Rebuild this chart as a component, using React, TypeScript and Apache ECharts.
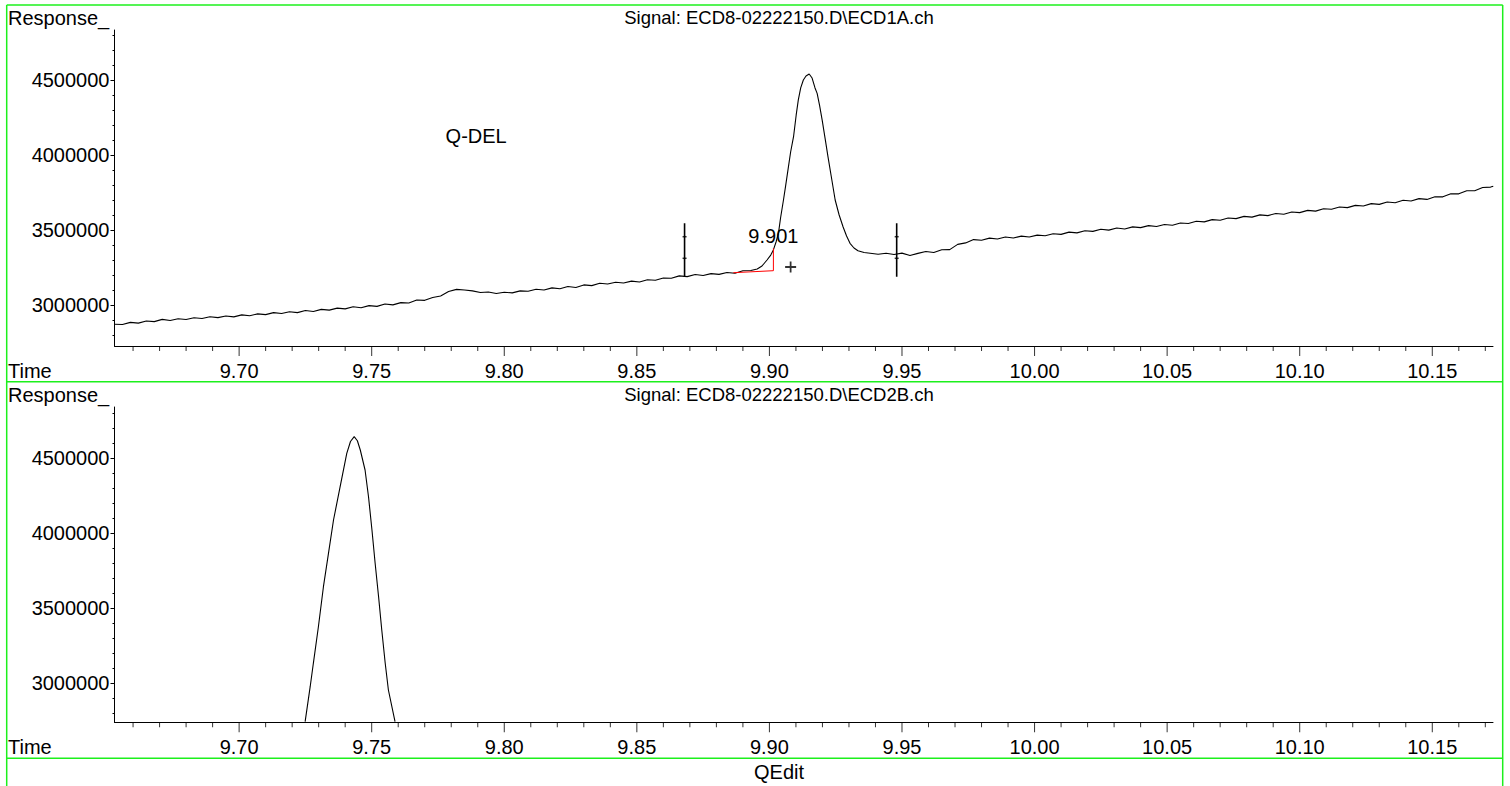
import React, { useEffect, useRef } from "react";
import * as echarts from "echarts";

const FONT = '"Liberation Sans", Arial, Helvetica, sans-serif';

// Axis ranges
const timeMin = 9.653;
const timeMax = 10.1729;
const topRespMin = 2726667;
const topRespMax = 4833333;
const botRespMin = 2738000;
const botRespMax = 4840000;

// Tick labels / positions
const timeMajorTicks = [9.7, 9.75, 9.8, 9.85, 9.9, 9.95, 10.0, 10.05, 10.1, 10.15];
const timeMinorTicks = [
  9.66, 9.67, 9.68, 9.69, 9.71, 9.72, 9.73, 9.74, 9.76, 9.77, 9.78, 9.79,
  9.81, 9.82, 9.83, 9.84, 9.86, 9.87, 9.88, 9.89, 9.91, 9.92, 9.93,
  9.94, 9.96, 9.97, 9.98, 9.99, 10.01, 10.02, 10.03, 10.04, 10.06,
  10.07, 10.08, 10.09, 10.11, 10.12, 10.13, 10.14, 10.16, 10.17,
];
const respMajorTicks = [3000000, 3500000, 4000000, 4500000];
const respMinorTicks = [
  2800000, 2900000, 3100000, 3200000, 3300000, 3400000, 3600000,
  3700000, 3800000, 3900000, 4100000, 4200000, 4300000, 4400000,
  4600000, 4700000, 4800000,
];

// Signal ECD1A
const ecd1aTime = [
  9.653, 9.656, 9.659, 9.662, 9.665, 9.668, 9.671, 9.674, 9.677, 9.68, 9.683, 9.686,
  9.689, 9.692, 9.695, 9.698, 9.701, 9.704, 9.707, 9.71, 9.713, 9.716, 9.719, 9.722,
  9.725, 9.728, 9.731, 9.734, 9.737, 9.74, 9.743, 9.746, 9.749, 9.752, 9.755, 9.758,
  9.761, 9.764, 9.767, 9.77, 9.773, 9.776, 9.779, 9.782, 9.785, 9.788, 9.791, 9.794,
  9.797, 9.8, 9.803, 9.806, 9.809, 9.812, 9.815, 9.818, 9.821, 9.824, 9.827, 9.83,
  9.833, 9.836, 9.839, 9.842, 9.845, 9.848, 9.851, 9.854, 9.857, 9.86, 9.863, 9.866,
  9.869, 9.872, 9.875, 9.878, 9.881, 9.884, 9.887, 9.89, 9.893,
  9.8954, 9.8972, 9.8991, 9.9005, 9.9015, 9.9025, 9.9034, 9.9042, 9.9053, 9.9061,
  9.9071, 9.908, 9.9091, 9.9101, 9.9109, 9.9118, 9.9128, 9.9138, 9.915,
  9.9161, 9.9172, 9.918, 9.9189, 9.9199, 9.921, 9.9221, 9.9233, 9.9248, 9.9263,
  9.9278, 9.9291, 9.9304, 9.9319, 9.9334, 9.9357, 9.938,
  9.941, 9.944, 9.947, 9.95, 9.953, 9.956, 9.959, 9.962, 9.965, 9.968, 9.971, 9.974,
  9.977, 9.98, 9.983, 9.986, 9.989, 9.992, 9.995, 9.998, 10.001, 10.004, 10.007,
  10.01, 10.013, 10.016, 10.019, 10.022, 10.025, 10.028, 10.031, 10.034, 10.037,
  10.04, 10.043, 10.046, 10.049, 10.052, 10.055, 10.058, 10.061, 10.064, 10.067,
  10.07, 10.073, 10.076, 10.079, 10.082, 10.085, 10.088, 10.091, 10.094, 10.097,
  10.1, 10.103, 10.106, 10.109, 10.112, 10.115, 10.118, 10.121, 10.124, 10.127,
  10.13, 10.133, 10.136, 10.139, 10.142, 10.145, 10.148, 10.151, 10.154, 10.157,
  10.16, 10.163, 10.166, 10.169, 10.172, 10.173,
];
const ecd1aResponse = [
  2872000, 2870000, 2884000, 2879000, 2893000, 2889000, 2904000, 2897000, 2908000,
  2903000, 2915000, 2910000, 2922000, 2916000, 2927000, 2921000, 2934000, 2928000,
  2941000, 2936000, 2949000, 2943000, 2955000, 2949000, 2963000, 2957000, 2971000,
  2966000, 2979000, 2974000, 2988000, 2982000, 2996000, 2991000, 3007000, 3001000,
  3016000, 3013000, 3033000, 3031000, 3050000, 3060000, 3090000, 3104000, 3100000,
  3094000, 3083000, 3087000, 3077000, 3085000, 3081000, 3094000, 3092000, 3105000,
  3100000, 3114000, 3108000, 3123000, 3117000, 3134000, 3129000, 3145000, 3140000,
  3152000, 3147000, 3159000, 3153000, 3168000, 3165000, 3180000, 3178000, 3194000,
  3189000, 3203000, 3197000, 3209000, 3204000, 3217000, 3212000, 3228000, 3230000,
  3240000, 3260000, 3300000, 3333000, 3367000, 3420000, 3478000, 3580000, 3700000,
  3793000, 3913000, 4020000, 4122000, 4267000, 4367000, 4447000, 4500000, 4527000,
  4540000,
  4513000, 4447000, 4411000, 4333000, 4233000, 4111000, 3987000, 3860000, 3700000,
  3600000, 3520000, 3460000, 3411000, 3380000, 3362000, 3350000, 3345000,
  3338000, 3345000, 3337000, 3346000, 3330000, 3344000, 3357000, 3350000, 3368000,
  3369000, 3404000, 3414000, 3436000, 3432000, 3446000, 3440000, 3453000, 3447000,
  3459000, 3453000, 3466000, 3462000, 3475000, 3471000, 3486000, 3481000, 3495000,
  3491000, 3505000, 3499000, 3513000, 3507000, 3521000, 3516000, 3529000, 3523000,
  3537000, 3532000, 3547000, 3543000, 3558000, 3554000, 3569000, 3565000, 3580000,
  3576000, 3591000, 3586000, 3601000, 3596000, 3610000, 3605000, 3620000, 3616000,
  3631000, 3626000, 3642000, 3638000, 3653000, 3649000, 3664000, 3660000, 3676000,
  3671000, 3687000, 3682000, 3698000, 3693000, 3709000, 3704000, 3721000, 3721000,
  3741000, 3741000, 3762000, 3762000, 3783000, 3786000, 3792000,
];

// Integration baseline (red) and peak markers
const baselineTime = [9.8864, 9.9015, 9.9015];
const baselineResponse = [3215333, 3228667, 3378000];
const markerTimes = [9.868, 9.948];
const markerLow = 3188667;
const markerHigh = 3544667;
const markerNubs = [3455333, 3311333];
const rtLabel = { time: 9.9015, response: 3460000, text: "9.901" };
const plusMark = { time: 9.908, response: 3253333 };
const compoundLabel = { time: 9.7894, response: 4130000, text: "Q-DEL" };

// Signal ECD2B
const ecd2bTime = [
  9.7249, 9.7268, 9.728, 9.7299, 9.7318, 9.7337, 9.7356, 9.7381, 9.7406, 9.742,
  9.7434, 9.7446, 9.7457, 9.7475, 9.7488, 9.7501, 9.7513, 9.7526, 9.7538, 9.7551,
  9.7563, 9.7588,
];
const ecd2bResponse = [
  2742000, 2975333, 3131333, 3375333, 3642000, 3864667, 4086667, 4308667, 4531333,
  4610000, 4642000, 4615000, 4553333, 4420000, 4242000, 4020000, 3798000, 3575333,
  3353333, 3131333, 2953333, 2742000,
];

const titleTop = "Signal: ECD8-02222150.D\\ECD1A.ch";
const titleBottom = "Signal: ECD8-02222150.D\\ECD2B.ch";

function zip(a: number[], b: number[]) {
  return a.map((v, i) => [v, b[i]]);
}

const tickOnly = (len: number, values: number[]) => ({
  axisLine: { show: false, onZero: false },
  axisTick: { show: true, inside: false, length: len, customValues: values, lineStyle: { color: "#000", width: 1 } },
  axisLabel: { show: false },
  splitLine: { show: false },
});

function timeAxis(gridIndex: number) {
  return {
    type: "value",
    gridIndex,
    min: timeMin,
    max: timeMax,
    position: "bottom",
    axisLine: { show: true, onZero: false, lineStyle: { color: "#000", width: 1 } },
    axisTick: { show: false },
    axisLabel: {
      show: true,
      customValues: timeMajorTicks,
      formatter: (v: number) => v.toFixed(2),
      margin: 15,
      color: "#000",
      fontSize: 20,
      fontFamily: FONT,
    },
    splitLine: { show: false },
  };
}

function respAxes(gridIndex: number, min: number, max: number) {
  const base = { type: "value", gridIndex, min, max, position: "left" };
  return [
    {
      ...base,
      axisLine: { show: true, onZero: false, lineStyle: { color: "#000", width: 1 } },
      axisTick: { show: false },
      axisLabel: {
        show: true,
        customValues: respMajorTicks,
        formatter: (v: number) => String(Math.round(v)),
        margin: 5,
        color: "#000",
        fontSize: 20,
        fontFamily: FONT,
      },
      splitLine: { show: false },
    },
    { ...base, ...tickOnly(4, respMajorTicks) },
    { ...base, ...tickOnly(2, respMinorTicks) },
  ];
}

// time-axis tick marks drawn as scatter symbols hanging below the axis line
function timeTickSeries(xAxisIndex: number, yAxisIndex: number, yMin: number) {
  return [
    { ticks: timeMajorTicks, len: 10 },
    { ticks: timeMinorTicks, len: 5 },
  ].map(({ ticks, len }) => ({
    type: "scatter",
    xAxisIndex,
    yAxisIndex,
    silent: true,
    clip: false,
    symbol: "rect",
    symbolSize: [1, len],
    symbolOffset: [0, len / 2],
    itemStyle: { color: "#000" },
    data: ticks.map((t) => [t, yMin]),
  }));
}

function txt(text: string, x: number, y: number, align: string, size = 20) {
  return {
    type: "text",
    x,
    y,
    silent: true,
    style: { text, fill: "#000", fontSize: size, fontFamily: FONT, align, verticalAlign: "middle" },
  };
}

function gline(x1: number, y1: number, x2: number, y2: number) {
  return {
    type: "line",
    silent: true,
    shape: { x1, y1, x2, y2 },
    style: { stroke: "#1cf01c", lineWidth: 1.5 },
  };
}

export default function App() {
  const ref = useRef<HTMLDivElement>(null);

  useEffect(() => {
    document.body.style.margin = "0";
    if (!ref.current) return;
    const chart = echarts.init(ref.current, null, { renderer: "svg" });

    const labelSeries = (item: { time: number; response: number; text: string }) => ({
      type: "scatter",
      xAxisIndex: 0,
      yAxisIndex: 0,
      symbolSize: 0,
      silent: true,
      data: [[item.time, item.response]],
      label: {
        show: true,
        position: "inside",
        formatter: item.text,
        color: "#000",
        opacity: 1,
        textBorderWidth: 0,
        fontSize: 20,
        fontFamily: FONT,
      },
    });

    const option: any = {
      animation: false,
      backgroundColor: "#fff",
      grid: [
        { left: 114.5, top: 30, width: 1378.5, height: 316 },
        { left: 114.5, top: 407, width: 1378.5, height: 315.3 },
      ],
      xAxis: [timeAxis(0), timeAxis(1)],
      yAxis: [...respAxes(0, topRespMin, topRespMax), ...respAxes(1, botRespMin, botRespMax)],
      series: [
        {
          type: "line",
          xAxisIndex: 0,
          yAxisIndex: 0,
          data: zip(ecd1aTime, ecd1aResponse),
          showSymbol: false,
          silent: true,
          clip: true,
          lineStyle: { color: "#000", width: 1.1 },
        },
        {
          type: "line",
          xAxisIndex: 0,
          yAxisIndex: 0,
          data: zip(baselineTime, baselineResponse),
          showSymbol: false,
          silent: true,
          lineStyle: { color: "#ff0000", width: 1 },
        },
        ...markerTimes.map((t) => ({
          type: "line",
          xAxisIndex: 0,
          yAxisIndex: 0,
          data: [
            [t, markerLow],
            [t, markerHigh],
          ],
          showSymbol: false,
          silent: true,
          lineStyle: { color: "#000", width: 1.6 },
        })),
        {
          type: "scatter",
          xAxisIndex: 0,
          yAxisIndex: 0,
          silent: true,
          symbol: "rect",
          symbolSize: [4, 1.5],
          itemStyle: { color: "#000" },
          data: markerTimes.flatMap((t) => markerNubs.map((r) => [t, r])),
        },
        {
          type: "scatter",
          xAxisIndex: 0,
          yAxisIndex: 0,
          silent: true,
          symbol: "path://M4.2,0h1.6v10h-1.6z M0,4.2h10v1.6h-10z",
          symbolSize: 11,
          itemStyle: { color: "#000" },
          data: [[plusMark.time, plusMark.response]],
        },
        labelSeries(rtLabel),
        labelSeries(compoundLabel),
        {
          type: "line",
          xAxisIndex: 1,
          yAxisIndex: 3,
          data: zip(ecd2bTime, ecd2bResponse),
          showSymbol: false,
          silent: true,
          clip: true,
          lineStyle: { color: "#000", width: 1.1 },
        },
        ...timeTickSeries(0, 0, topRespMin),
        ...timeTickSeries(1, 3, botRespMin),
      ],
      graphic: [
        gline(6.7, 5, 1502.7, 5),
        gline(6.7, 5, 6.7, 786),
        gline(1502.7, 5, 1502.7, 786),
        gline(6.7, 381.7, 1502.7, 381.7),
        gline(6.7, 758.3, 1502.7, 758.3),
        txt("Response_", 8, 18, "left"),
        txt(titleTop, 779, 17, "center", 18.5),
        txt("Time", 8, 371, "left"),
        txt("Response_", 8, 395, "left"),
        txt(titleBottom, 779, 394, "center", 18.5),
        txt("Time", 8, 747, "left"),
        txt("QEdit", 779, 772, "center"),
      ],
    };

    chart.setOption(option);
    return () => chart.dispose();
  }, []);

  return <div ref={ref} style={{ width: 1510, height: 786 }} />;
}
